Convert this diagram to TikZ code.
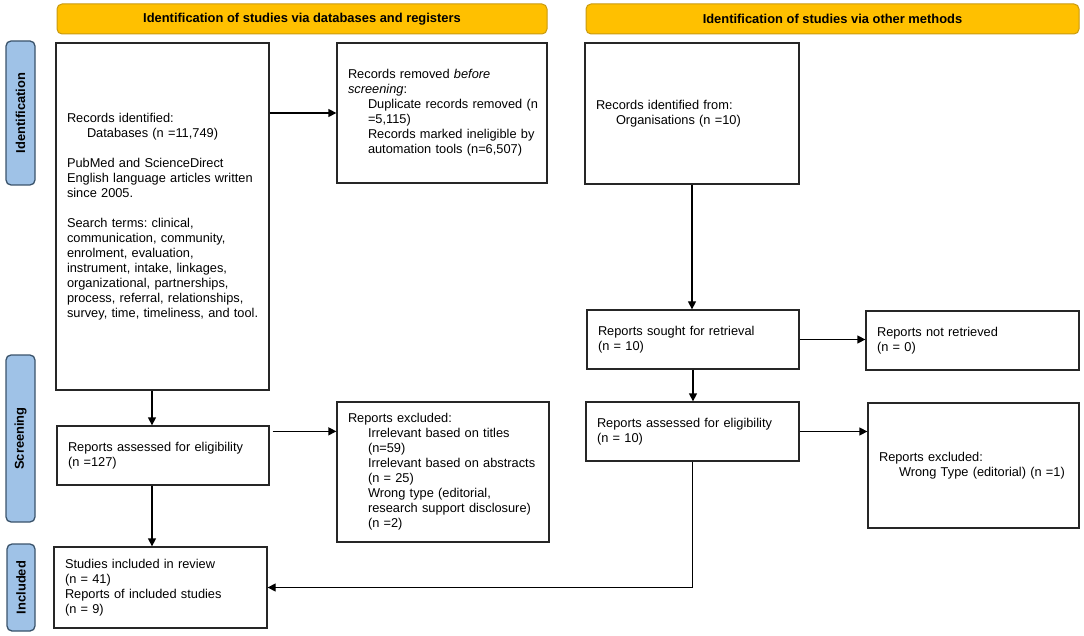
\documentclass[tikz,border=0pt]{standalone}
\usepackage{fontspec}
\setmainfont{Liberation Sans}
\usetikzlibrary{arrows.meta,calc}
\definecolor{hdrfill}{HTML}{FFC000}
\definecolor{hdrdraw}{HTML}{C99A10}
\definecolor{labfill}{HTML}{9FC2E7}
\definecolor{labdraw}{HTML}{3A536B}
\newcommand{\ind}{\hspace*{20pt}}
\frenchspacing
\begin{document}
\begin{tikzpicture}[x=1pt,y=-1pt,
  box/.style={draw=black!85, line width=1.3pt, align=left, inner xsep=11pt, inner ysep=0pt,
    font=\fontsize{12.8}{15}\selectfont},
  hdr/.style={draw=hdrdraw, fill=hdrfill, rounded corners=5pt, line width=1pt, inner sep=0pt,
    font=\fontsize{12.9}{15}\selectfont\bfseries},
  sidelab/.style={draw=labdraw, fill=labfill, rounded corners=5pt, line width=1.3pt, inner sep=0pt,
    rotate=90, font=\fontsize{12.9}{15}\selectfont\bfseries},
  arr/.style={line width=1.3pt, -{Triangle[length=8pt,width=8pt]}}]
\useasboundingbox (0,0) rectangle (1084,636);

% headers
\node[hdr, minimum width=490pt, minimum height=30pt] (h1) at (302,19) {Identification of studies via databases and registers};
\node[hdr, minimum width=493pt, minimum height=30pt] (h2) at (832.5,19) {Identification of studies via other methods};

% side labels
\node[sidelab, minimum width=144pt, minimum height=29pt] (l1) at (20.5,113) {Identification};
\node[sidelab, minimum width=167pt, minimum height=29pt] (l2) at (20.5,438.5) {Screening};
\node[sidelab, minimum width=87pt, minimum height=28pt] (l3) at (21,587.5) {Included};

% left column
\node[box, minimum width=213pt, minimum height=347pt, text width=191pt] (n1) at (162.5,216.5)
 {Records identified:\\
  \ind Databases (n =11,749)\\[15pt]
  PubMed and ScienceDirect\\
  \mbox{English language articles written}\\
  since 2005.\\[15pt]
  Search terms: clinical,\\
  communication, community,\\
  enrolment, evaluation,\\
  instrument, intake, linkages,\\
  organizational, partnerships,\\
  process, referral, relationships,\\
  \mbox{survey, time, timeliness, and tool.}};

\node[box, minimum width=210pt, minimum height=140pt, text width=188pt] (n2) at (442,113)
 {Records removed \textit{before}\\
  \textit{screening}:\\
  \ind\mbox{Duplicate records removed (n}\\
  \ind =5,115)\\
  \ind\mbox{Records marked ineligible by}\\
  \ind\mbox{automation tools (n=6,507)}};

\node[box, minimum width=212pt, minimum height=59pt, text width=190pt] (n3) at (163,455.5)
 {Reports assessed for eligibility\\
  (n =127)};

\node[box, minimum width=212pt, minimum height=140pt, text width=190pt] (n4) at (443,472)
 {Reports excluded:\\
  \ind Irrelevant based on titles\\
  \ind (n=59)\\
  \ind\mbox{Irrelevant based on abstracts}\\
  \ind (n = 25)\\
  \ind Wrong type (editorial,\\
  \ind\mbox{research support disclosure)}\\
  \ind (n =2)};

\node[box, minimum width=213pt, minimum height=81pt, text width=191pt] (n5) at (160.5,587.5)
 {Studies included in review\\
  (n = 41)\\
  Reports of included studies\\
  (n = 9)};

% right column
\node[box, minimum width=214pt, minimum height=141pt, text width=192pt] (m1) at (692,113.5)
 {Records identified from:\\
  \ind Organisations (n =10)};

\node[box, minimum width=212pt, minimum height=59pt, text width=190pt] (m2) at (693,339.5)
 {Reports sought for retrieval\\
  (n = 10)};

\node[box, minimum width=213pt, minimum height=59pt, text width=191pt] (m3) at (972.5,340.5)
 {Reports not retrieved\\
  (n = 0)};

\node[box, minimum width=213pt, minimum height=59pt, text width=191pt] (m4) at (692.5,431.5)
 {Reports assessed for eligibility\\
  (n = 10)};

\node[box, minimum width=211pt, minimum height=125pt, text width=189pt] (m5) at (973.5,465.5)
 {Reports excluded:\\
  \ind\mbox{Wrong Type (editorial) (n =1)}};

% connectors
\coordinate (c1) at ([xshift=-10.5pt]n1.south);
\coordinate (c2) at ([xshift=-11pt]n3.south);
\coordinate (c3) at ([xshift=3pt,yshift=-6pt]n3.north east);
\draw[arr] (n1.east |- n2.west) -- (n2.west);
\draw[arr] (c1) -- (c1 |- n3.north);
\draw[arr] (c3) -- (n4.west |- c3);
\draw[arr] (c2) -- (c2 |- n5.north);

\draw[arr] (m1.south) -- (m1.south |- m2.north);
\draw[arr] (m2.east) -- (m2.east -| m3.west);
\draw[arr] (m2.south) -- (m2.south |- m4.north);
\draw[arr] (m4.east) -- (m4.east -| m5.west);
\draw[arr] (m4.south) -- (m4.south |- n5.east) -- (n5.east);
\end{tikzpicture}
\end{document}
